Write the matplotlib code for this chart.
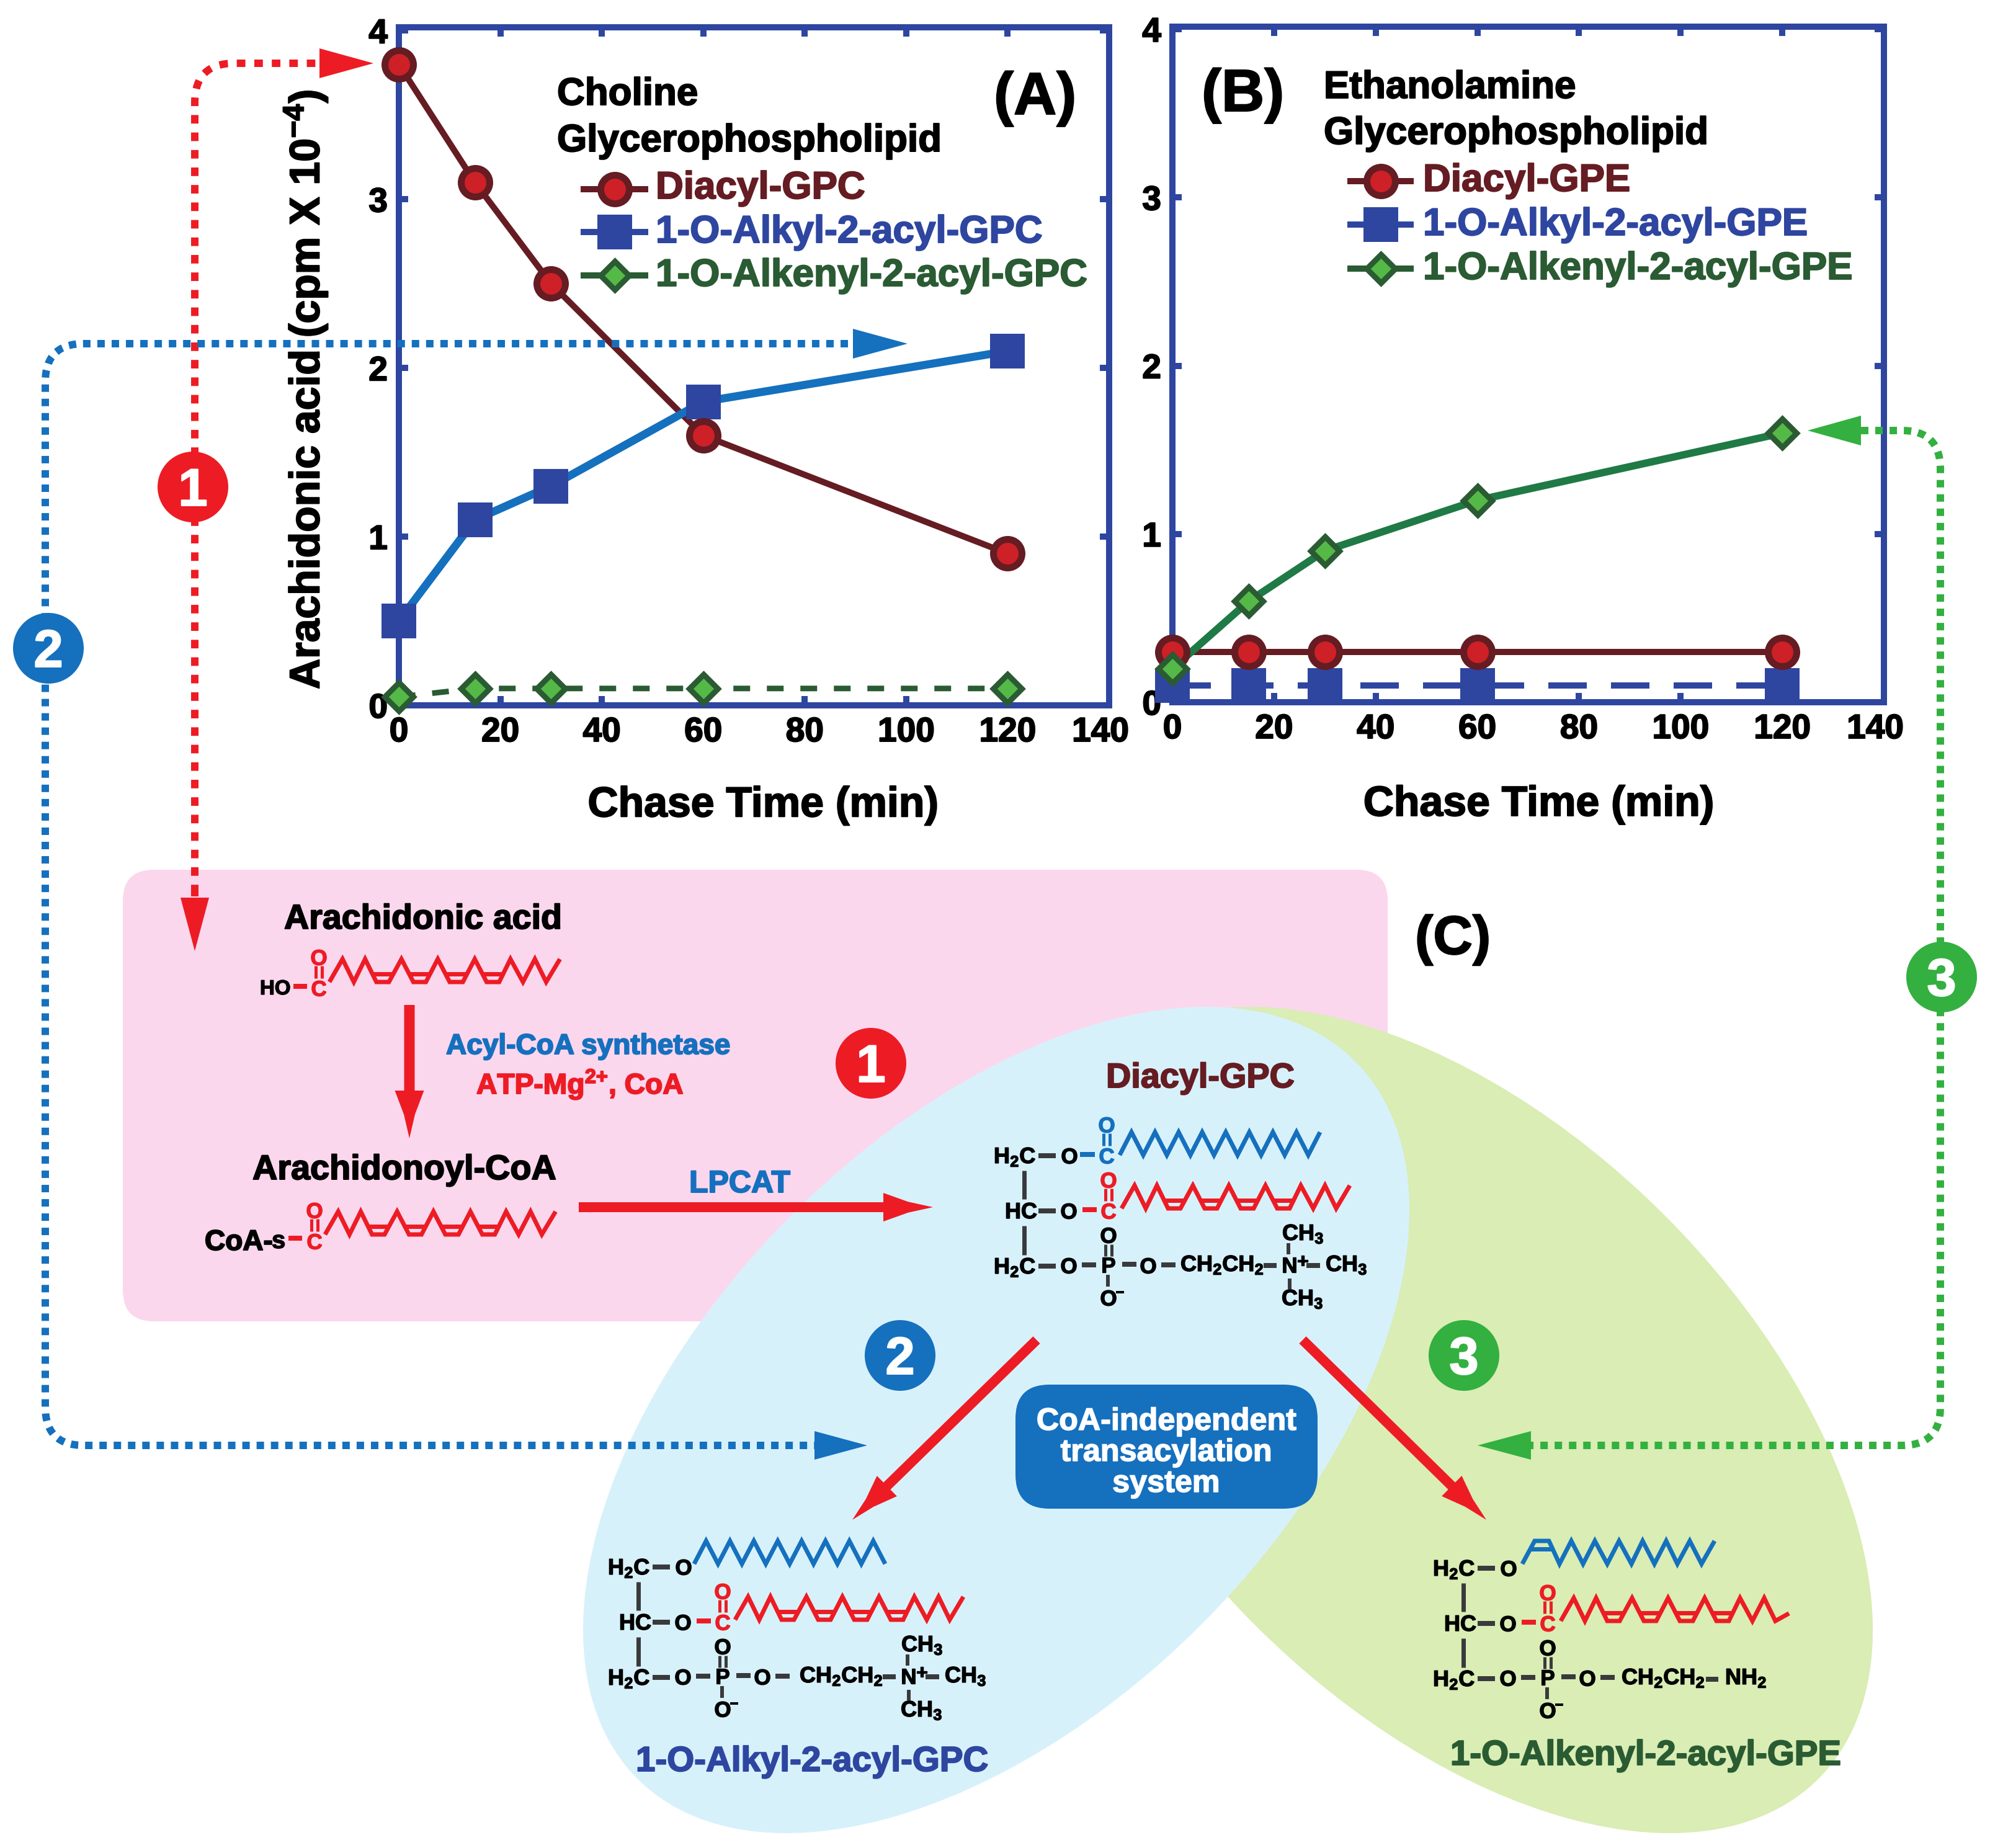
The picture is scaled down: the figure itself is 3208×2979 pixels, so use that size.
import matplotlib
matplotlib.use('Agg')
import matplotlib.pyplot as plt
import matplotlib.patheffects as pe
from matplotlib.patches import Circle, Ellipse, FancyBboxPatch, PathPatch, Polygon
from matplotlib.path import Path
from matplotlib.transforms import ScaledTranslation

plt.rcParams['font.family'] = ['Liberation Sans', 'DejaVu Sans']
plt.rcParams['font.weight'] = 'bold'
plt.rcParams['mathtext.fontset'] = 'custom'
plt.rcParams['mathtext.bf'] = 'Liberation Sans:bold'
plt.rcParams['mathtext.rm'] = 'Liberation Sans:bold'
plt.rcParams['mathtext.default'] = 'bf'

# Chart values
chase_time = [0, 15, 30, 60, 120]
a_diacyl = [3.8, 3.1, 2.5, 1.6, 0.9]
a_alkyl = [0.5, 1.1, 1.3, 1.8, 2.1]
a_alkenyl = [0.05, 0.1, 0.1, 0.1, 0.1]
b_diacyl = [0.3, 0.3, 0.3, 0.3, 0.3]
b_alkyl = [0.1, 0.1, 0.1, 0.1, 0.1]
b_alkenyl = [0.2, 0.6, 0.9, 1.2, 1.6]
x_ticks = [0, 20, 40, 60, 80, 100, 120, 140]
y_ticks = [0, 1, 2, 3, 4]

# Colours
RED = '#ED1C24'
BLUE = '#1570BE'
NAVY = '#2E46A0'
MAROON = '#651C22'
DKGREEN = '#2A5B33'
LINEGREEN = '#1F7A45'
GREEN = '#33B040'
FILLRED = '#CE2027'
FILLGREEN = '#55B947'
GRAY = '#3A3A3C'

W, H = 3208, 2979
PT = 0.72  # one pixel in points at dpi=100

fig = plt.figure(figsize=(W / 100, H / 100), dpi=100, facecolor='white')


def heavy(color='k', px=2.0):
    # the reference lettering is a bit fatter than Liberation bold
    return [pe.withStroke(linewidth=px * PT, foreground=color)]


def make_panel(x0, x1, y0, y1, ytop):
    ax = fig.add_axes([x0 / W, 1 - y1 / H, (x1 - x0) / W, (y1 - y0) / H])
    ax.set_xlim(0, 140)
    ax.set_ylim(0, ytop)
    ax.set_xticks(x_ticks)
    ax.set_yticks(y_ticks)
    ax.tick_params(direction='in', top=True, right=True, length=15 * PT, width=10 * PT,
                   color=NAVY, labelsize=55 * PT, pad=13)
    for s in ax.spines.values():
        s.set_linewidth(10 * PT)
        s.set_color(NAVY)
    ax.patch.set_visible(False)
    for lab in ax.get_xticklabels() + ax.get_yticklabels():
        lab.set_path_effects(heavy())
    # the 140 sits a little left of its tick
    lab = ax.get_xticklabels()[-1]
    lab.set_transform(lab.get_transform() + ScaledTranslation(-0.14, 0, fig.dpi_scale_trans))
    return ax


def plot_circle(ax, y, zorder=5):
    ax.plot(chase_time, y, color=MAROON, lw=10 * PT, zorder=3, clip_on=False)
    ax.plot(chase_time, y, ls='none', marker='o', ms=46 * PT, mfc=FILLRED, mec=MAROON,
            mew=11 * PT, zorder=zorder, clip_on=False)


# Panel A
ax_a = make_panel(643, 1788, 44, 1137, 4.02)
plot_circle(ax_a, a_diacyl)
ax_a.plot(chase_time, a_alkyl, color=BLUE, lw=13 * PT, zorder=4, clip_on=False)
ax_a.plot(chase_time, a_alkyl, ls='none', marker='s', ms=56 * PT, color=NAVY, mew=0, zorder=4, clip_on=False)
ax_a.plot(chase_time, a_alkenyl, color=DKGREEN, lw=9 * PT, ls=(0, (3, 3)), zorder=3, clip_on=False)
ax_a.plot(chase_time, a_alkenyl, ls='none', marker='D', ms=33 * PT, mfc=FILLGREEN, mec=DKGREEN,
          mew=9 * PT, zorder=6, clip_on=False)
ax_a.set_xlabel('Chase Time (min)', fontsize=68 * PT, va='baseline', fontweight='bold', path_effects=heavy())
ax_a.xaxis.set_label_coords(0.513, -0.164)

# Panel B
ax_b = make_panel(1890, 3037, 43, 1132, 4.015)
ax_b.plot(chase_time, b_alkyl, color=NAVY, lw=10 * PT, ls=(0, (6.2, 3.9)), zorder=2, clip_on=False)
ax_b.plot(chase_time, b_alkyl, ls='none', marker='s', ms=56 * PT, color=NAVY, mew=0, zorder=3, clip_on=False)
plot_circle(ax_b, b_diacyl)
ax_b.plot(chase_time, b_alkenyl, color=LINEGREEN, lw=12 * PT, zorder=4, clip_on=False)
ax_b.plot(chase_time, b_alkenyl, ls='none', marker='D', ms=33 * PT, mfc=FILLGREEN, mec=DKGREEN,
          mew=9 * PT, zorder=6, clip_on=False)
ax_b.set_xlabel('Chase Time (min)', fontsize=68 * PT, va='baseline', fontweight='bold', path_effects=heavy())
ax_b.xaxis.set_label_coords(0.515, -0.168)

# Everything else goes on a full-figure overlay in pixel coordinates
ov = fig.add_axes([0, 0, 1, 1], zorder=10)
ov.set_xlim(0, W)
ov.set_ylim(H, 0)
ov.axis('off')
ov.patch.set_visible(False)


def txt(x, y, s, em, color='k', ha='left', **kw):
    ov.text(x, y, s, fontsize=em * PT, color=color, ha=ha, va='baseline', fontweight='bold',
            path_effects=heavy(color, 2.0 if em > 40 else 1.4), **kw)


def bond(x0, y0, x1, y1, color=GRAY, w=8):
    ov.plot([x0, x1], [y0, y1], color=color, lw=w * PT, solid_capstyle='butt')


def atom(x, y, s, color='k', em=35):
    txt(x, y + 12.5, s, em, color=color, ha='center')


def solid_arrow(x0, y0, x1, y1, w=16, hw=23, hl=78):
    # tapered head with slightly hollow sides
    L = ((x1 - x0) ** 2 + (y1 - y0) ** 2) ** 0.5
    ux, uy = (x1 - x0) / L, (y1 - y0) / L
    nx, ny = -uy, ux

    def at(a, b):
        return (x0 + ux * a + nx * b, y0 + uy * a + ny * b)

    pts = [at(0, -w / 2), at(L - hl, -w / 2), at(L - hl, -hw), at(L - hl * 0.5, -hw * 0.38), at(L, 0),
           at(L - hl * 0.5, hw * 0.38), at(L - hl, hw), at(L - hl, w / 2), at(0, w / 2)]
    ov.add_patch(Polygon(pts, closed=True, fc=RED, ec='none', zorder=4))


def dotted(verts, color, w, on, off, tip, base, half):
    codes = []
    for v in verts:
        codes.append(v[2] if len(v) > 2 else Path.LINETO)
    codes[0] = Path.MOVETO
    p = Path([(v[0], v[1]) for v in verts], codes)
    ov.add_patch(PathPatch(p, fill=False, ec=color, lw=w * PT, ls=(0, (on, off)), capstyle='butt', zorder=6))
    # arrow head, horizontal or vertical
    if tip[1] == base[1]:
        pts = [tip, (base[0], base[1] - half), (base[0], base[1] + half)]
    else:
        pts = [tip, (base[0] - half, base[1]), (base[0] + half, base[1])]
    ov.add_patch(Polygon(pts, closed=True, fc=color, ec='none', zorder=7))


def number(x, y, s, color):
    ov.add_patch(Circle((x, y), 57, fc=color, ec='none', zorder=8))
    ov.text(x, y + 30, s, fontsize=85 * PT, color='white', ha='center', va='baseline', fontweight='bold', zorder=9,
            path_effects=heavy('white', 2.0))


# Background shapes
ov.add_patch(FancyBboxPatch((198, 1402), 2039, 728, boxstyle='round,pad=0,rounding_size=50',
                            fc='#FBD7EE', ec='none', zorder=1))
ov.add_patch(Ellipse((2353, 2289), 1636, 934, angle=45, fc='#D9EDB4', ec='none', zorder=1.5))
ov.add_patch(Ellipse((1606, 2289), 1636, 934, angle=-45, fc='#D7F1FB', ec='none', zorder=2))

# Chains: offsets along x and level (0 low, 1 high)
ARACH_DX = [0, 21, 39, 57, 75, 95, 115, 134, 154, 173, 192, 213, 232, 251, 271, 289, 309, 328, 346, 368]
ARACH_LV = [0, 1, 0, 1, 0, 0, 1, 0, 0, 1, 0, 0, 1, 0, 0, 1, 0, 1, 0, 1]
ENOL_DX = [0, 20, 43, 60, 79, 98, 117, 137, 156, 176, 194, 213, 232, 250, 270, 289, 310]
ENOL_LV = [0, 1, 1, 0, 1, 0, 1, 0, 1, 0, 1, 0, 1, 0, 1, 0, 1]


def chain(x0, ylow, dx, lv, color, h=37, w=7, sx=1.0):
    xs = [x0 + d * sx for d in dx]
    ys = [ylow - h * v for v in lv]
    ov.plot(xs, ys, color=color, lw=w * PT, solid_joinstyle='miter', solid_capstyle='butt', zorder=5)
    # short second stroke of each double bond
    for i in range(1, len(xs) - 2):
        if lv[i] == lv[i + 1]:
            f = 0.36
            xa = xs[i] + (xs[i - 1] - xs[i]) * f
            xb = xs[i + 1] + (xs[i + 2] - xs[i + 1]) * f
            ya = ys[i] + (ys[i - 1] - ys[i]) * f
            ov.plot([xa, xb], [ya, ya], color=color, lw=w * PT, solid_capstyle='butt', zorder=5)


def saw(x0, ylow, n, step, color, start=0):
    dx = [step * i for i in range(n)]
    lv = [(start + i) % 2 for i in range(n)]
    chain(x0, ylow, dx, lv, color)


def carbonyl(xc, yc, color):
    atom(xc, yc, 'C', color)
    bond(xc - 5, yc - 36, xc - 5, yc - 16, color, 5)
    bond(xc + 5, yc - 36, xc + 5, yc - 16, color, 5)
    atom(xc, yc - 50, 'O', color)


def backbone(dx, dy, tail_dx=0, choline=True):
    txt(980 + dx, 2538 + dy, 'H$_2$C', 36)
    txt(998 + dx, 2627 + dy, 'HC', 36)
    txt(980 + dx, 2716 + dy, 'H$_2$C', 36)
    bond(1029 + dx, 2550 + dy, 1029 + dx, 2596 + dy, w=7)
    bond(1029 + dx, 2639 + dy, 1029 + dx, 2686 + dy, w=7)
    bond(1052 + dx, 2526 + dy, 1080 + dx, 2526 + dy)
    bond(1052 + dx, 2615 + dy, 1080 + dx, 2615 + dy)
    bond(1052 + dx, 2704 + dy, 1080 + dx, 2704 + dy)
    atom(1102 + dx, 2526 + dy, 'O')
    atom(1101 + dx, 2615 + dy, 'O')
    atom(1101 + dx, 2703 + dy, 'O')
    # sn-2 acyl
    bond(1123 + dx, 2613 + dy, 1146 + dx, 2613 + dy, RED)
    carbonyl(1165 + dx, 2615 + dy, RED)
    # phosphate
    bond(1122 + dx, 2702 + dy, 1145 + dx, 2702 + dy)
    atom(1165 + dx, 2702 + dy, 'P')
    bond(1160 + dx, 2669 + dy, 1160 + dx, 2688 + dy, w=5)
    bond(1170 + dx, 2669 + dy, 1170 + dx, 2688 + dy, w=5)
    atom(1165 + dx, 2654 + dy, 'O')
    bond(1164 + dx, 2718 + dy, 1164 + dx, 2737 + dy, w=6)
    atom(1165 + dx, 2755 + dy, 'O')
    bond(1177 + dx, 2746 + dy, 1190 + dx, 2746 + dy, 'k', 4)
    bond(1187 + dx, 2701 + dy, 1210 + dx, 2701 + dy)
    atom(1229 + dx, 2703 + dy, 'O')
    bond(1250 + dx, 2702 + dy, 1273 + dx, 2702 + dy)
    t = dx + tail_dx
    if choline:
        txt(1289 + t, 2712 + dy, 'CH$_2$CH$_2$', 36)
        bond(1423 + t, 2703 + dy, 1444 + t, 2703 + dy)
        atom(1465 + t, 2702 + dy, 'N')
        txt(1486 + t, 2706 + dy, '+', 32, ha='center')
        bond(1492 + t, 2703 + dy, 1514 + t, 2703 + dy)
        txt(1523 + t, 2712 + dy, 'CH$_3$', 36)
        txt(1453 + t, 2662 + dy, 'CH$_3$', 36)
        bond(1463 + t, 2667 + dy, 1463 + t, 2685 + dy, w=6)
        bond(1465 + t, 2724 + dy, 1465 + t, 2741 + dy, w=6)
        txt(1452 + t, 2767 + dy, 'CH$_3$', 36)
    else:
        txt(1284 + t, 2713 + dy, 'CH$_2$CH$_2$', 36)
        bond(1420 + t, 2705 + dy, 1440 + t, 2705 + dy)
        txt(1451 + t, 2713 + dy, 'NH$_2$', 36)


# Diacyl-GPC (centre)
txt(1783, 1753, 'Diacyl-GPC', 55.8, MAROON)
backbone(622, -663, tail_dx=-8)
bond(1741, 1861, 1765, 1861, BLUE)
carbonyl(1784, 1863, BLUE)
saw(1805, 1862, 18, 19, BLUE)
chain(1808, 1948, ARACH_DX, ARACH_LV, RED)

# 1-O-Alkyl-2-acyl-GPC
backbone(0, 0)
saw(1119, 2521, 17, 19.25, BLUE)
chain(1185, 2611, ARACH_DX, ARACH_LV, RED)
txt(1025, 2855, '1-O-Alkyl-2-acyl-GPC', 56.5, NAVY)

# 1-O-Alkenyl-2-acyl-GPE
backbone(1330, 2, choline=False)
chain(2454, 2521, ENOL_DX, ENOL_LV, BLUE)
chain(2516, 2613, ARACH_DX[:-1] + [368], ARACH_LV[:-1] + [0.33], RED)
txt(2338, 2845, '1-O-Alkenyl-2-acyl-GPE', 56.4, DKGREEN)

# Pink box contents
txt(458, 1497, 'Arachidonic acid', 55.6)
txt(419, 1603, 'HO', 33)
bond(473, 1590, 495, 1590, RED)
carbonyl(514, 1593, RED)
chain(531, 1583, ARACH_DX, ARACH_LV, RED, sx=1.01)
solid_arrow(660, 1620, 660, 1835, w=17, hw=23.5, hl=77)
txt(719, 1699, 'Acyl-CoA synthetase', 46, BLUE)
txt(768, 1763, 'ATP-Mg$^{2{+}}$, CoA', 46.2, RED)
txt(407, 1901, 'Arachidonoyl-CoA', 55.8)
txt(330, 2015, 'CoA-', 46)
txt(438, 2012, 's', 40)
bond(465, 1996, 487, 1996, RED)
carbonyl(507, 2001, RED)
chain(524, 1990, ARACH_DX, ARACH_LV, RED, sx=1.01)
txt(1111, 1922, 'LPCAT', 50, BLUE)
solid_arrow(933, 1946, 1504, 1946, w=16, hw=23, hl=80)
txt(2281, 1538, '(C)', 88)

# Transacylation arrows and box
solid_arrow(1671, 2160, 1374, 2450)
solid_arrow(2100, 2160, 2396, 2450)
ov.add_patch(FancyBboxPatch((1637, 2232), 487, 200, boxstyle='round,pad=0,rounding_size=55',
                            fc=BLUE, ec='none', zorder=3))
for y, s in zip([2305, 2355, 2405], ['CoA-independent', 'transacylation', 'system']):
    ov.text(1880, y, s, fontsize=50.3 * PT, color='white', ha='center', va='baseline', fontweight='bold', zorder=4,
            path_effects=heavy('white', 1.5))

# Panel titles and hand-placed legends
txt(1602, 184, '(A)', 96)
txt(898, 169, 'Choline', 62)
txt(898, 244, 'Glycerophospholipid', 62)
txt(1937, 179, '(B)', 96)
txt(2134, 158, 'Ethanolamine', 62)
txt(2134, 232, 'Glycerophospholipid', 62)


def legend_key(x0, x1, y, kind):
    xm = (x0 + x1) / 2
    if kind == 'o':
        ov.plot([x0, x1], [y, y], color=MAROON, lw=10 * PT, solid_capstyle='butt')
        ov.plot([xm], [y], marker='o', ms=46 * PT, mfc=FILLRED, mec=MAROON, mew=11 * PT)
    elif kind == 's':
        ov.plot([x0, x1], [y, y], color=NAVY, lw=10 * PT, solid_capstyle='butt')
        ov.plot([xm], [y], marker='s', ms=56 * PT, color=NAVY, mew=0)
    else:
        ov.plot([x0, x1], [y, y], color=DKGREEN, lw=10 * PT, solid_capstyle='butt')
        ov.plot([xm], [y], marker='D', ms=33 * PT, mfc=FILLGREEN, mec=DKGREEN, mew=9 * PT)


legend_key(936, 1045, 305, 'o')
legend_key(936, 1045, 374, 's')
legend_key(936, 1045, 444, 'D')
txt(1057, 320, 'Diacyl-GPC', 62, MAROON)
txt(1057, 391, '1-O-Alkyl-2-acyl-GPC', 62, NAVY)
txt(1057, 461, '1-O-Alkenyl-2-acyl-GPC', 62, DKGREEN)

legend_key(2172, 2279, 292, 'o')
legend_key(2172, 2279, 362, 's')
legend_key(2172, 2279, 433, 'D')
txt(2294, 308, 'Diacyl-GPE', 62, MAROON)
txt(2294, 379, '1-O-Alkyl-2-acyl-GPE', 62, NAVY)
txt(2294, 450, '1-O-Alkenyl-2-acyl-GPE', 62, DKGREEN)

ov.text(515, 1111, 'Arachidonic acid (cpm X 10$^{{-}4}$)', fontsize=68 * PT, rotation=90, ha='left', va='baseline',
        rotation_mode='anchor', fontweight='bold', path_effects=heavy())

# Dotted connectors
C3 = Path.CURVE3
dotted([(314, 1440), (314, 165), (314, 102, C3), (378, 102, C3), (510, 102)], RED, 12, 1.15, 1.2,
       (602, 102), (515, 102), 24)
dotted([(314, 1440), (314, 1445)], RED, 12, 1.15, 1.2, (314, 1533), (314, 1447), 23)
dotted([(1367, 554), (135, 554), (73, 554, C3), (73, 616, C3), (73, 2268), (73, 2330, C3), (135, 2330, C3),
        (1315, 2330)], BLUE, 12, 1, 0.92, (1463, 554), (1375, 554), 24)
dotted([(1315, 2330), (1316, 2330)], BLUE, 12, 1, 0.92, (1398, 2330), (1313, 2330), 23)
dotted([(3000, 694), (3066, 694), (3128, 694, C3), (3128, 756, C3), (3128, 2268), (3128, 2330, C3),
        (3066, 2330, C3), (2466, 2330)], GREEN, 12, 1, 0.92, (2914, 694), (3000, 694), 24)
dotted([(2466, 2330), (2465, 2330)], GREEN, 12, 1, 0.92, (2382, 2330), (2468, 2330), 23)

number(311, 785, '1', RED)
number(78, 1045, '2', BLUE)
number(3130, 1575, '3', GREEN)
number(1404, 1714, '1', RED)
number(1451, 2185, '2', BLUE)
number(2360, 2185, '3', GREEN)

fig.savefig('out.png', dpi=100)
